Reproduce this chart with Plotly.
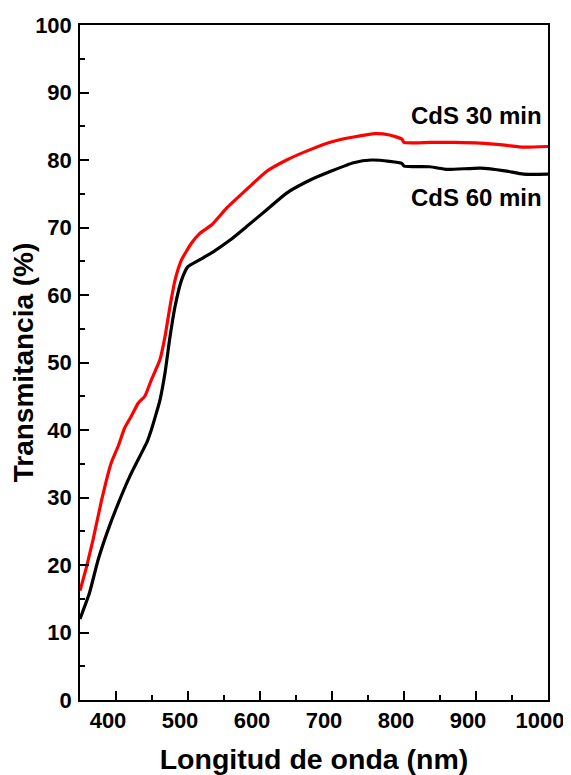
import plotly.graph_objects as go

# CdS 30 min (red)
wl_30 = [350, 359, 368, 380, 393, 403, 412, 421, 431, 440, 449, 461, 468, 475, 482, 491,
         505, 516, 533, 553, 581, 609, 637, 669, 700, 730, 760, 780, 797, 800, 836, 870,
         906, 940, 966, 1000]
t_30 = [16.2, 19.7, 23.7, 29.6, 35.0, 37.6, 40.3, 42.0, 44.0, 45.0, 47.4, 50.4, 53.8, 58.3,
        62.2, 65.2, 67.7, 69.1, 70.4, 72.8, 75.6, 78.3, 80.0, 81.5, 82.7, 83.4, 83.9, 83.7,
        83.1, 82.6, 82.6, 82.6, 82.5, 82.2, 81.9, 82.0]

# CdS 60 min (black)
wl_60 = [350, 363, 375, 389, 403, 419, 435, 443, 449, 456, 461, 468, 475, 482, 491, 500,
         516, 535, 558, 581, 609, 637, 669, 700, 730, 755, 780, 797, 800, 836, 860, 906,
         940, 966, 1000]
t_60 = [12.0, 15.8, 20.7, 25.2, 29.1, 33.1, 36.5, 38.2, 40.0, 42.5, 44.4, 48.4, 53.8, 58.3,
        62.2, 64.2, 65.2, 66.4, 68.1, 70.1, 72.6, 75.1, 77.0, 78.4, 79.6, 80.0, 79.8, 79.5,
        79.1, 79.0, 78.6, 78.8, 78.4, 77.9, 77.9]

labels = ["CdS 30 min", "CdS 60 min"]
label_pos = [(995, 86.6), (995, 74.5)]

FONT = "Arial, Liberation Sans, sans-serif"

fig = go.Figure()
fig.add_trace(go.Scatter(x=wl_30, y=t_30, mode="lines", name=labels[0],
                         line=dict(color="#ff0000", width=3.2, shape="spline", smoothing=0.5)))
fig.add_trace(go.Scatter(x=wl_60, y=t_60, mode="lines", name=labels[1],
                         line=dict(color="#000000", width=3.2, shape="spline", smoothing=0.5)))

for lab, (lx, ly) in zip(labels, label_pos):
    fig.add_annotation(x=lx, y=ly, xref="x", yref="y", text="<b>%s</b>" % lab,
                       showarrow=False, xanchor="right", yanchor="middle",
                       font=dict(family=FONT, size=24, color="black"))

axis_common = dict(
    showline=True, linecolor="black", linewidth=1.5, mirror=True,
    ticks="inside", ticklen=9, tickwidth=1.5, tickcolor="black",
    showgrid=False, zeroline=False, automargin=False, ticklabeloverflow="allow",
    tickfont=dict(family=FONT, size=22, color="black", weight="bold"),
)

fig.update_xaxes(range=[350, 1000], tick0=0, dtick=100,
                 minor=dict(ticks="inside", ticklen=5, tickwidth=1.5, tickcolor="black", dtick=50, tick0=0),
                 title=dict(text="<b>Longitud de onda (nm)</b>", standoff=17,
                            font=dict(family=FONT, size=28.5, color="black")),
                 ticklabelstandoff=0, ticklabelshift=-8,
                 **axis_common)
fig.update_yaxes(range=[0, 100], tick0=0, dtick=10,
                 minor=dict(ticks="inside", ticklen=5, tickwidth=1.5, tickcolor="black", dtick=5, tick0=0),
                 title=dict(text="<b>Transmitancia (%)</b>", standoff=0,
                            font=dict(family=FONT, size=28, color="black")),
                 ticklabelstandoff=2,
                 **axis_common)

# page body has an 8px margin; compensate so plot frame lands at x 80-548, y 25-700
fig.update_layout(width=563, height=767, showlegend=False,
                  paper_bgcolor="white", plot_bgcolor="white",
                  margin=dict(l=72, r=23, t=17, b=75))

fig.write_html("out.html")
